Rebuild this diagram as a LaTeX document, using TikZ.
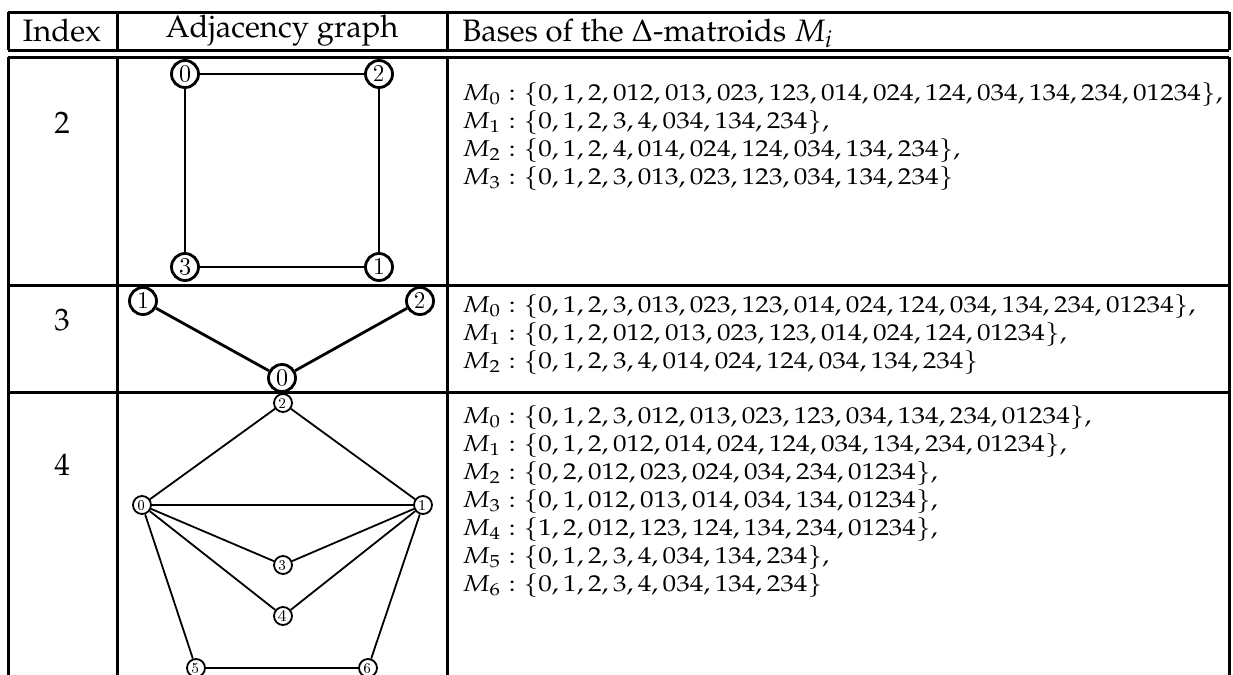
\documentclass[tikz,border=0pt]{standalone}
\usepackage[T1]{fontenc}
\usepackage{mathpazo}

% the bases are set a little wider than the font
\newcommand{\wideset}[1]{\scalebox{1.18}[1]{#1}}

\tikzset{
  tabline/.style={line width=1.5pt},
  bigvtx/.style={circle,draw,line width=1.4pt,fill=white,inner sep=0pt,minimum size=13.5pt,
    font=\fontsize{12}{12}\usefont{T1}{lmr}{m}{n}},
  smallvtx/.style={circle,draw,line width=0.9pt,fill=white,inner sep=0pt,minimum size=9pt,
    font=\fontsize{8}{8}\usefont{T1}{lmr}{m}{n}},
  bigedge/.style={line width=1.4pt},
  smalledge/.style={line width=0.9pt},
  headtxt/.style={inner sep=0pt,font=\fontsize{15.5}{18}\selectfont},
  basetxt/.style={anchor=base west,inner sep=0pt,font=\fontsize{11.5}{14}\selectfont},
}

\begin{document}
\begin{tikzpicture}[x=0.5pt,y=-0.5pt]
            \useasboundingbox (0,0) rectangle (1233,675);

            % table rules
            \draw[tabline] (8,12) -- (1229,12);
            \draw[tabline] (8,50) -- (1229,50);
            \draw[tabline] (8,57) -- (1229,57);
            \draw[tabline] (8,285) -- (1229,285);
            \draw[tabline] (8,392) -- (1229,392);
            \draw[tabline] (8,12) -- (8,50);
            \draw[tabline] (117,12) -- (117,50);
            \draw[tabline] (447,12) -- (447,50);
            \draw[tabline] (1229,12) -- (1229,50);
            \draw[tabline] (8,57) -- (8,680);
            \draw[tabline] (117,57) -- (117,680);
            \draw[tabline] (447,57) -- (447,680);
            \draw[tabline] (1229,57) -- (1229,680);

            % header
            \node[headtxt] (hidx) at (62,31) {Index};
            \node[headtxt] (hgraph) at (282,31) {Adjacency graph};
            \node[headtxt,anchor=base west] (hbases) at (462,41) {Bases of the $\Delta$-matroids $M_i$};

            % index column
            \node[headtxt] (idx2) at (62,123) {2};
            \node[headtxt] (idx3) at (62,320) {3};
            \node[headtxt] (idx4) at (62,465) {4};

            % graph of index 2
            \node[bigvtx] (a0) at (185,74) {0};
            \node[bigvtx] (a2) at (379,74) {2};
            \node[bigvtx] (a3) at (185,267) {3};
            \node[bigvtx] (a1) at (379,267) {1};
            \draw[bigedge] (a0) -- (a2);
            \draw[bigedge] (a2) -- (a1);
            \draw[bigedge] (a1) -- (a3);
            \draw[bigedge] (a3) -- (a0);

            % graph of index 3
            \node[bigvtx] (b1) at (143,301) {1};
            \node[bigvtx] (b2) at (420,301) {2};
            \node[bigvtx] (b0) at (282,378) {0};
            \draw[bigedge] (b1) -- (b0);
            \draw[bigedge] (b0) -- (b2);

            % graph of index 4
            \node[smallvtx] (c2) at (283,403) {2};
            \node[smallvtx] (c0) at (142,505) {0};
            \node[smallvtx] (c1) at (423,505) {1};
            \node[smallvtx] (c3) at (283,565) {3};
            \node[smallvtx] (c4) at (283,616) {4};
            \node[smallvtx] (c5) at (196,668) {5};
            \node[smallvtx] (c6) at (368,668) {6};
            \draw[smalledge] (c2) -- (c0);
            \draw[smalledge] (c2) -- (c1);
            \draw[smalledge] (c0) -- (c1);
            \draw[smalledge] (c0) -- (c3);
            \draw[smalledge] (c3) -- (c1);
            \draw[smalledge] (c0) -- (c4);
            \draw[smalledge] (c4) -- (c1);
            \draw[smalledge] (c0) -- (c5);
            \draw[smalledge] (c5) -- (c6);
            \draw[smalledge] (c6) -- (c1);

            % bases of index 2
            \node[basetxt] (m20) at (462,100) {\wideset{$M_0 : \{0,1,2,012,013,023,123,014,024,124,034,134,234,01234\}$,}};
            \node[basetxt] (m21) at (462,128) {\wideset{$M_1 : \{0,1,2,3,4,034,134,234\}$,}};
            \node[basetxt] (m22) at (462,156) {\wideset{$M_2 : \{0,1,2,4,014,024,124,034,134,234\}$,}};
            \node[basetxt] (m23) at (462,184) {\wideset{$M_3 : \{0,1,2,3,013,023,123,034,134,234\}$}};

            % bases of index 3
            \node[basetxt] (m30) at (462,312) {\wideset{$M_0 : \{0,1,2,3,013,023,123,014,024,124,034,134,234,01234\}$,}};
            \node[basetxt] (m31) at (462,340) {\wideset{$M_1 : \{0,1,2,012,013,023,123,014,024,124,01234\}$,}};
            \node[basetxt] (m32) at (462,368) {\wideset{$M_2 : \{0,1,2,3,4,014,024,124,034,134,234\}$}};

            % bases of index 4
            \node[basetxt] (m40) at (462,423) {\wideset{$M_0 : \{0,1,2,3,012,013,023,123,034,134,234,01234\}$,}};
            \node[basetxt] (m41) at (462,451) {\wideset{$M_1 : \{0,1,2,012,014,024,124,034,134,234,01234\}$,}};
            \node[basetxt] (m42) at (462,479) {\wideset{$M_2 : \{0,2,012,023,024,034,234,01234\}$,}};
            \node[basetxt] (m43) at (462,507) {\wideset{$M_3 : \{0,1,012,013,014,034,134,01234\}$,}};
            \node[basetxt] (m44) at (462,535) {\wideset{$M_4 : \{1,2,012,123,124,134,234,01234\}$,}};
            \node[basetxt] (m45) at (462,563) {\wideset{$M_5 : \{0,1,2,3,4,034,134,234\}$,}};
            \node[basetxt] (m46) at (462,591) {\wideset{$M_6 : \{0,1,2,3,4,034,134,234\}$}};
        \end{tikzpicture}
\end{document}
